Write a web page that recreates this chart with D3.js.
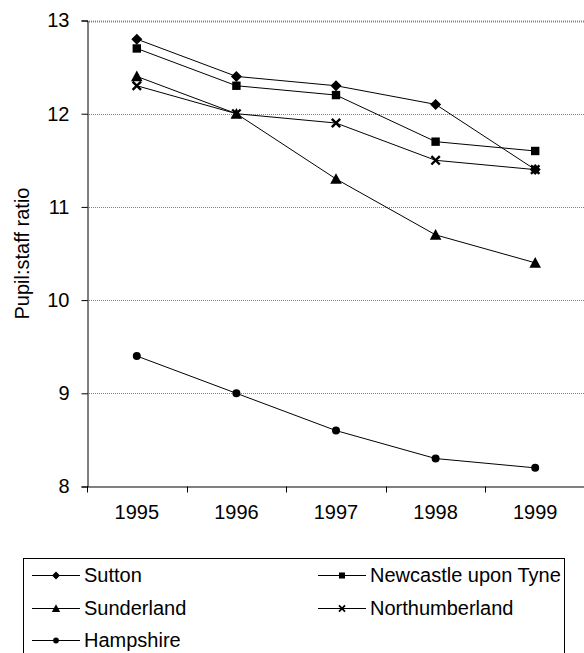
<!DOCTYPE html>
<html>
<head>
<meta charset="utf-8">
<script src="https://cdn.jsdelivr.net/npm/d3@7"></script>
<style>
  html, body { margin: 0; padding: 0; background: #fff; }
  svg { display: block; font-family: Arial, "Liberation Sans", sans-serif; }
</style>
</head>
<body>
<svg id="chart" width="584" height="653"></svg>
<script>
// Pupil:staff ratio by local authority, 1995-1999
const years = ["1995", "1996", "1997", "1998", "1999"];
const yTicks = [8, 9, 10, 11, 12, 13];

const sutton         = [12.8, 12.4, 12.3, 12.1, 11.4];
const newcastle      = [12.7, 12.3, 12.2, 11.7, 11.6];
const sunderland     = [12.4, 12.0, 11.3, 10.7, 10.4];
const northumberland = [12.3, 12.0, 11.9, 11.5, 11.4];
const hampshire      = [9.4, 9.0, 8.6, 8.3, 8.2];

const seriesNames = ["Sutton", "Newcastle upon Tyne", "Sunderland", "Northumberland", "Hampshire"];
const seriesValues = [sutton, newcastle, sunderland, northumberland, hampshire];
const seriesMarkers = ["diamond", "square", "triangle", "cross", "circle"];

const FONT = "Arial, 'Liberation Sans', sans-serif";
const svg = d3.select("#chart");
const plotLeft = 87, plotRight = 585, plotTop = 20.5, plotBottom = 486.5;

const x = d3.scaleBand().domain(years).range([plotLeft, plotRight]);
const y = d3.scaleLinear().domain([8, 13]).range([plotBottom, plotTop]);

// horizontal gridlines (top one doubles as the plot frame)
svg.append("g")
  .selectAll("line")
  .data(yTicks.filter(t => t > 8))
  .join("line")
  .attr("x1", plotLeft).attr("x2", plotRight)
  .attr("y1", d => Math.round(y(d)) + 0.5).attr("y2", d => Math.round(y(d)) + 0.5)
  .attr("stroke", "#808080")
  .attr("stroke-width", d => d === 13 ? 2 : 1)
  .attr("stroke-dasharray", "1,1");

// y axis
const yAxis = d3.axisLeft(y).tickValues(yTicks).tickSize(6).tickPadding(12).tickFormat(d3.format("d"));
const gy = svg.append("g").attr("transform", `translate(${plotLeft + 0.5},0)`).call(yAxis);
gy.select(".domain").attr("stroke", "#000");
gy.selectAll(".tick line").attr("stroke", "#000");
gy.selectAll(".tick text").attr("font-size", 20).attr("fill", "#000").attr("font-family", FONT);

// x axis: ticks sit on the category boundaries
const xAxis = d3.axisBottom(x).tickSize(0).tickPadding(18);
const gx = svg.append("g").attr("transform", `translate(0,${plotBottom})`).call(xAxis);
gx.select(".domain").attr("stroke", "#000").attr("d", `M${plotLeft},0.5H${plotRight}`);
gx.selectAll(".tick text").attr("font-size", 20).attr("fill", "#000").attr("font-family", FONT);
svg.append("g")
  .selectAll("line")
  .data(years)
  .join("line")
  .attr("x1", d => Math.round(x(d)) + 0.5).attr("x2", d => Math.round(x(d)) + 0.5)
  .attr("y1", plotBottom).attr("y2", plotBottom + 6)
  .attr("stroke", "#000");

// y axis title
svg.append("text")
  .attr("transform", `translate(29,${(plotTop + plotBottom) / 2}) rotate(-90)`)
  .attr("text-anchor", "middle")
  .attr("font-size", 20)
  .attr("font-family", FONT)
  .text("Pupil:staff ratio");

// marker shapes
function drawMarker(g, type, cx, cy, scale) {
  const s = scale || 1;
  if (type === "diamond") {
    const r = 5.5 * s;
    g.append("path").attr("d", `M${cx},${cy - r}L${cx + r},${cy}L${cx},${cy + r}L${cx - r},${cy}Z`).attr("fill", "#000");
  } else if (type === "square") {
    const r = 4.2 * s;
    g.append("rect").attr("x", cx - r).attr("y", cy - r).attr("width", 2 * r).attr("height", 2 * r).attr("fill", "#000");
  } else if (type === "triangle") {
    const r = 5.8 * s;
    g.append("path").attr("d", `M${cx},${cy - r}L${cx + r},${cy + r * 0.85}L${cx - r},${cy + r * 0.85}Z`).attr("fill", "#000");
  } else if (type === "cross") {
    const r = 4.2 * s;
    g.append("path").attr("d", `M${cx - r},${cy - r}L${cx + r},${cy + r}M${cx + r},${cy - r}L${cx - r},${cy + r}`)
      .attr("stroke", "#000").attr("stroke-width", 2.4 * s);
  } else if (type === "circle") {
    g.append("circle").attr("cx", cx).attr("cy", cy).attr("r", 4 * s).attr("fill", "#000");
  }
}

const line = d3.line()
  .x((d, i) => x(years[i]) + x.bandwidth() / 2)
  .y(d => y(d));

const plot = svg.append("g");
seriesValues.forEach((vals) => {
  plot.append("path").attr("d", line(vals)).attr("fill", "none").attr("stroke", "#000").attr("stroke-width", 1);
});
seriesValues.forEach((vals, k) => {
  const g = plot.append("g");
  vals.forEach((v, i) => drawMarker(g, seriesMarkers[k], x(years[i]) + x.bandwidth() / 2, y(v), 1));
});

// legend
const legend = svg.append("g");
legend.append("rect")
  .attr("x", 23.5).attr("y", 558.5).attr("width", 541).attr("height", 130)
  .attr("fill", "#fff").attr("stroke", "#000").attr("stroke-width", 1);
const colX = [32, 318];
const rowY = [575, 608, 640];
seriesNames.forEach((name, k) => {
  const cx = colX[k % 2], cy = rowY[Math.floor(k / 2)];
  legend.append("line").attr("x1", cx).attr("x2", cx + 48).attr("y1", cy + 0.5).attr("y2", cy + 0.5).attr("stroke", "#000");
  drawMarker(legend, seriesMarkers[k], cx + 24, cy + 0.5, 0.72);
  legend.append("text").attr("x", cx + 52).attr("y", cy).attr("dy", "0.35em")
    .attr("font-size", 20).attr("font-family", FONT).text(name);
});
</script>
</body>
</html>
